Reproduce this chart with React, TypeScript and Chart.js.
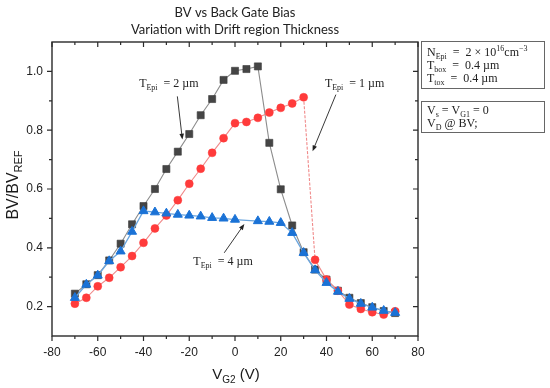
import React, { useEffect, useRef } from "react";
import { Chart, registerables } from "chart.js";

Chart.register(...registerables);

// ---------- data ----------
const VG2 = [-70, -65, -60, -55, -50, -45, -40, -35, -30, -25, -20, -15, -10, -5, 0, 5, 10, 15, 20, 25, 30, 35, 40, 45, 50, 55, 60, 65, 70];
const T_EPI_2UM = [0.244, 0.276, 0.307, 0.357, 0.414, 0.48, 0.542, 0.6, 0.668, 0.727, 0.787, 0.851, 0.906, 0.971, 1.002, 1.008, 1.017, 0.757, 0.599, 0.476, 0.385, 0.326, 0.292, 0.254, 0.23, 0.212, 0.198, 0.185, 0.178];
const T_EPI_1UM = [0.21, 0.23, 0.269, 0.298, 0.334, 0.372, 0.417, 0.466, 0.51, 0.562, 0.618, 0.669, 0.723, 0.773, 0.824, 0.828, 0.842, 0.86, 0.876, 0.891, 0.912, 0.359, 0.292, 0.254, 0.207, 0.192, 0.181, 0.173, 0.184];
const T_EPI_4UM = [0.23, 0.275, 0.306, 0.355, 0.388, 0.455, 0.525, 0.521, 0.517, 0.513, 0.51, 0.507, 0.502, 0.5, 0.496, null, 0.491, 0.489, 0.485, 0.451, 0.383, 0.324, 0.281, 0.251, 0.227, 0.21, 0.197, 0.186, 0.179];

const X_TICKS = [-80, -60, -40, -20, 0, 20, 40, 60, 80];
const X_MINOR = [-70, -50, -30, -10, 10, 30, 50, 70];
const Y_TICKS = [0.2, 0.4, 0.6, 0.8, 1.0];
const Y_MINOR = [0.3, 0.5, 0.7, 0.9];

const TITLE_LINES = ["BV vs Back Gate Bias", "Variation with Drift region Thickness"];

type Seg = { t: string; s?: "sub" | "sup" };

const X_TITLE: Seg[] = [{ t: "V" }, { t: "G2", s: "sub" }, { t: " (V)" }];
const Y_TITLE: Seg[] = [{ t: "BV/BV" }, { t: "REF", s: "sub" }];

const BOX1_LINES: Seg[][] = [
  [{ t: "N" }, { t: "Epi", s: "sub" }, { t: "  =  2 × 10" }, { t: "16", s: "sup" }, { t: "cm" }, { t: "−3", s: "sup" }],
  [{ t: "T" }, { t: "box", s: "sub" }, { t: "  =  0.4 µm" }],
  [{ t: "T" }, { t: "tox", s: "sub" }, { t: "  =  0.4 µm" }],
];
const BOX2_LINES: Seg[][] = [
  [{ t: "V" }, { t: "s", s: "sub" }, { t: " = V" }, { t: "G1", s: "sub" }, { t: " = 0" }],
  [{ t: "V" }, { t: "D", s: "sub" }, { t: " @ BV;" }],
];

// annotation labels, anchored in data coordinates
const ANNOTATIONS = [
  { label: [{ t: "T" }, { t: "Epi", s: "sub" }, { t: "  = 2 µm" }] as Seg[], at: [-41.9, 0.958], from: [-25.2, 0.915], to: [-23.0, 0.768] },
  { label: [{ t: "T" }, { t: "Epi", s: "sub" }, { t: "  = 1 µm" }] as Seg[], at: [39.3, 0.958], from: [44.1, 0.921], to: [33.9, 0.728] },
  { label: [{ t: "T" }, { t: "Epi", s: "sub" }, { t: "  = 4 µm" }] as Seg[], at: [-18.2, 0.351], from: [-4.7, 0.383], to: [4.1, 0.481] },
];

// ---------- helpers ----------
function drawRich(ctx: CanvasRenderingContext2D, segs: Seg[], x: number, y: number, size: number, family: string, align: "left" | "center") {
  const fontFor = (s?: string) => `${s ? Math.round(size * 0.68) : size}px ${family}`;
  const widths = segs.map((seg) => {
    ctx.font = fontFor(seg.s);
    return ctx.measureText(seg.t).width;
  });
  const total = widths.reduce((a, b) => a + b, 0);
  let cx = align === "center" ? x - total / 2 : x;
  ctx.textBaseline = "middle";
  ctx.textAlign = "left";
  segs.forEach((seg, i) => {
    ctx.font = fontFor(seg.s);
    const dy = seg.s === "sub" ? size * 0.32 : seg.s === "sup" ? -size * 0.38 : 0;
    ctx.fillText(seg.t, cx, y + dy);
    cx += widths[i];
  });
}

function arrow(ctx: CanvasRenderingContext2D, x1: number, y1: number, x2: number, y2: number) {
  const ang = Math.atan2(y2 - y1, x2 - x1);
  const L = 6, W = 2.3;
  ctx.beginPath();
  ctx.moveTo(x1, y1);
  ctx.lineTo(x2 - Math.cos(ang) * L * 0.8, y2 - Math.sin(ang) * L * 0.8);
  ctx.stroke();
  ctx.beginPath();
  ctx.moveTo(x2, y2);
  ctx.lineTo(x2 - Math.cos(ang) * L + Math.sin(ang) * W, y2 - Math.sin(ang) * L - Math.cos(ang) * W);
  ctx.lineTo(x2 - Math.cos(ang) * L - Math.sin(ang) * W, y2 - Math.sin(ang) * L + Math.cos(ang) * W);
  ctx.closePath();
  ctx.fill();
}

const decorPlugin = {
  id: "decor",
  afterDraw(chart: any) {
    const ctx: CanvasRenderingContext2D = chart.ctx;
    const { left, right, top, bottom } = chart.chartArea;
    const xs = chart.scales.x;
    const ys = chart.scales.y;
    ctx.save();

    // frame
    ctx.strokeStyle = "#2a2a2a";
    ctx.lineWidth = 1.4;
    ctx.strokeRect(left, top, right - left, bottom - top);

    // ticks
    ctx.lineWidth = 1.2;
    ctx.beginPath();
    const xt = (v: number, L: number) => {
      const p = xs.getPixelForValue(v);
      ctx.moveTo(p, bottom); ctx.lineTo(p, bottom + L);
      ctx.moveTo(p, top); ctx.lineTo(p, top + L);
    };
    const yt = (v: number, L: number) => {
      const p = ys.getPixelForValue(v);
      ctx.moveTo(left, p); ctx.lineTo(left - L, p);
      ctx.moveTo(right, p); ctx.lineTo(right - L, p);
    };
    X_TICKS.forEach((v) => xt(v, 5));
    X_MINOR.forEach((v) => xt(v, 3));
    Y_TICKS.forEach((v) => yt(v, 5));
    Y_MINOR.forEach((v) => yt(v, 3));
    ctx.stroke();

    // title
    ctx.fillStyle = "#222";
    ctx.textAlign = "center";
    ctx.textBaseline = "middle";
    ctx.font = "13px Lato";
    const cx = (left + right) / 2;
    ctx.fillText(TITLE_LINES[0], cx, 13);
    ctx.fillText(TITLE_LINES[1], cx, 29.5);

    // axis titles
    ctx.fillStyle = "#1a1a1a";
    drawRich(ctx, X_TITLE, cx + 1, 375, 15, "'Liberation Sans', Arial", "center");
    ctx.save();
    ctx.translate(14, 185);
    ctx.rotate(-Math.PI / 2);
    drawRich(ctx, Y_TITLE, 0, 0, 16, "'Liberation Sans', Arial", "center");
    ctx.restore();

    // info boxes
    ctx.strokeStyle = "#666";
    ctx.lineWidth = 1;
    ctx.strokeRect(421.5, 41.5, 123, 47);
    ctx.strokeRect(421.5, 101.5, 123, 31);
    ctx.fillStyle = "#222";
    const serif = "'Liberation Serif', 'DejaVu Serif', serif";
    BOX1_LINES.forEach((ln, i) => drawRich(ctx, ln, 427, 53 + i * 13, 12, serif, "left"));
    BOX2_LINES.forEach((ln, i) => drawRich(ctx, ln, 427, 111 + i * 13, 12, serif, "left"));

    // annotations
    ctx.strokeStyle = "#222";
    ctx.fillStyle = "#222";
    ctx.lineWidth = 0.9;
    ANNOTATIONS.forEach((a) => {
      drawRich(ctx, a.label, xs.getPixelForValue(a.at[0]), ys.getPixelForValue(a.at[1]), 12, serif, "left");
      arrow(ctx, xs.getPixelForValue(a.from[0]), ys.getPixelForValue(a.from[1]), xs.getPixelForValue(a.to[0]), ys.getPixelForValue(a.to[1]));
    });

    ctx.restore();
  },
};

export default function App() {
  const ref = useRef<HTMLCanvasElement | null>(null);

  useEffect(() => {
    if (!ref.current) return;
    const mk = (vals: (number | null)[]) => VG2.map((x, i) => ({ x, y: vals[i] }));
    const chart = new Chart(ref.current, {
      type: "line",
      data: {
        datasets: [
          {
            label: "T_Epi = 4 µm",
            data: mk(T_EPI_4UM) as any,
            order: 0,
            borderColor: "#6aa5de",
            borderWidth: 1.3,
            backgroundColor: "#1a72d6",
            pointStyle: "triangle",
            pointRadius: 5.2,
            pointBorderColor: "#1a72d6",
            pointBackgroundColor: "#1a72d6",
            pointBorderWidth: 1,
            spanGaps: true,
            tension: 0,
          },
          {
            label: "T_Epi = 1 µm",
            data: mk(T_EPI_1UM) as any,
            order: 1,
            borderColor: "#f08a8a",
            borderWidth: 1.1,
            pointStyle: "circle",
            pointRadius: 4,
            pointBorderColor: "#ff3b3b",
            pointBackgroundColor: "#ff3b3b",
            pointBorderWidth: 0.5,
            segment: {
              borderDash: (c: any) => (c.p0.parsed.x === 30 ? [3, 1.5] : undefined),
            },
            tension: 0,
          },
          {
            label: "T_Epi = 2 µm",
            data: mk(T_EPI_2UM) as any,
            order: 2,
            borderColor: "#8c8c8c",
            borderWidth: 1.1,
            pointStyle: "rect",
            pointRadius: 5,
            pointBorderColor: "#3a3a3a",
            pointBackgroundColor: "#454545",
            pointBorderWidth: 0.6,
            tension: 0,
          },
        ],
      },
      options: {
        animation: false,
        responsive: false,
        devicePixelRatio: 1,
        layout: { padding: { top: 42, right: 132, left: 0, bottom: 0 } },
        plugins: {
          legend: { display: false },
          title: { display: false },
          tooltip: { enabled: false },
        },
        scales: {
          x: {
            type: "linear",
            min: -80,
            max: 80,
            afterBuildTicks: (s: any) => {
              s.ticks = X_TICKS.map((v) => ({ value: v }));
            },
            afterFit: (s: any) => {
              s.height = 52;
            },
            ticks: {
              font: { family: "'Liberation Sans', Arial", size: 12 },
              color: "#222",
              padding: 9,
              maxRotation: 0,
            },
            grid: { display: false, drawTicks: false },
            border: { display: false },
          },
          y: {
            type: "linear",
            min: 0.1,
            max: 1.1,
            afterBuildTicks: (s: any) => {
              s.ticks = Y_TICKS.map((v) => ({ value: v }));
            },
            afterFit: (s: any) => {
              s.width = 52;
            },
            ticks: {
              font: { family: "'Liberation Sans', Arial", size: 12 },
              color: "#222",
              padding: 9,
              callback: (v: any) => Number(v).toFixed(1),
            },
            grid: { display: false, drawTicks: false },
            border: { display: false },
          },
        },
      },
      plugins: [decorPlugin],
    });
    return () => chart.destroy();
  }, []);

  return (
    <div style={{ position: "fixed", left: 0, top: 0, width: 550, height: 388, background: "#fff" }}>
      <canvas ref={ref} width={550} height={388} style={{ width: 550, height: 388, display: "block" }} />
    </div>
  );
}
